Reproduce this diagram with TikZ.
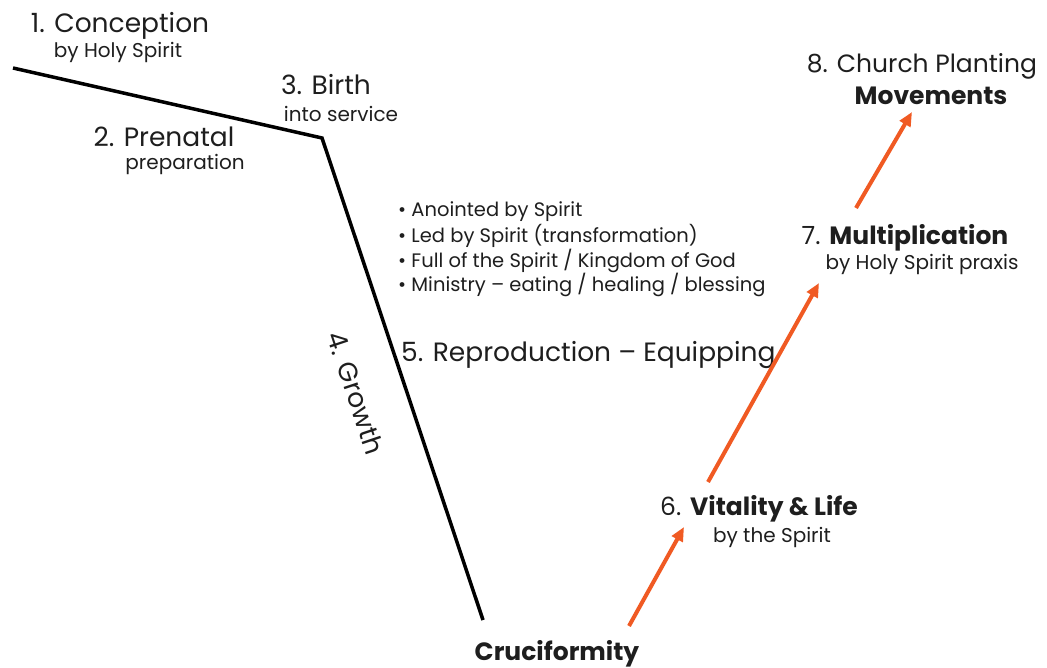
\documentclass[tikz,border=0pt]{standalone}
\usepackage{fontspec}
\setmainfont{Poppins}
\usetikzlibrary{positioning}
\usetikzlibrary{arrows.meta}
\definecolor{stageorange}{RGB}{240, 90, 35}
\definecolor{stagetext}{RGB}{30, 30, 30}

\tikzset{
    bigstage/.style={anchor=base, inner sep=0pt, text=stagetext, font=\fontsize{26.5}{30}\selectfont},
    midstage/.style={anchor=base, inner sep=0pt, text=stagetext, font=\fontsize{25}{29}\selectfont},
    substage/.style={anchor=base, inner sep=0pt, text=stagetext, font=\fontsize{20}{24}\selectfont},
    bulletline/.style={anchor=base west, inner sep=0pt, text=stagetext, font=\fontsize{19.5}{23}\selectfont},
    pathline/.style={line width=3.5pt, black},
    growarrow/.style={line width=4pt, stageorange, -{Triangle[length=14pt, width=12pt]}}
}

\begin{document}
\begin{tikzpicture}[x=1pt, y=-1pt]
        \useasboundingbox (0,0) rectangle (1047,668);

        % Descent
        \coordinate (start) at (13,68);
        \coordinate (knee) at (322,138);
        \coordinate (bottom) at (483,620);
        \draw[pathline, line join=miter] (start) -- (knee) -- (bottom);

        % Left labels
        \node[bigstage] (conception) at (120,33) {1. Conception};
        \node[substage] (conceptionSub) at (118,58) {by Holy Spirit};
        \node[bigstage] (prenatal) at (164,147) {2. Prenatal};
        \node[substage] (prenatalSub) at (185,170) {preparation};
        \node[bigstage] (birth) at (326,95) {3. Birth};
        \node[substage] (birthSub) at (341,122) {into service};
        \node[bigstage, anchor=center, rotate=-71.5] (growth) at (356,393) {4. Growth};

        % Bullets
        \node[bulletline] (b1) at (398,217) {• Anointed by Spirit};
        \node[bulletline] (b2) at (398,243) {• Led by Spirit (transformation)};
        \node[bulletline] (b3) at (398,268) {• Full of the Spirit / Kingdom of God};
        \node[bulletline] (b4) at (398,292) {• Ministry – eating / healing / blessing};
        \node[bigstage, anchor=base west] (repro) at (401,362) {5. Reproduction – Equipping};

        % Bottom and right labels
        \node[midstage] (cruci) at (557,660) {\textbf{Cruciformity}};
        \node[midstage] (vitality) at (759,515) {6. \textbf{Vitality \& Life}};
        \node[substage] (vitalitySub) at (772,542) {by the Spirit};
        \node[midstage] (multi) at (905,245) {7. \textbf{Multiplication}};
        \node[substage] (multiSub) at (922,270) {by Holy Spirit praxis};
        \node[midstage] (church) at (922,73) {8. Church Planting};
        \node[midstage] (movements) at (931,105) {\textbf{Movements}};

        % Rising arrows
        \coordinate (r1a) at (629,626);
        \coordinate (r1b) at (684,527);
        \coordinate (r2a) at (708,482);
        \coordinate (r2b) at (819,283);
        \coordinate (r3a) at (856,208);
        \coordinate (r3b) at (912,112);
        \draw[growarrow] (r1a) -- (r1b);
        \draw[growarrow] (r2a) -- (r2b);
        \draw[growarrow] (r3a) -- (r3b);

    \end{tikzpicture}
\end{document}
